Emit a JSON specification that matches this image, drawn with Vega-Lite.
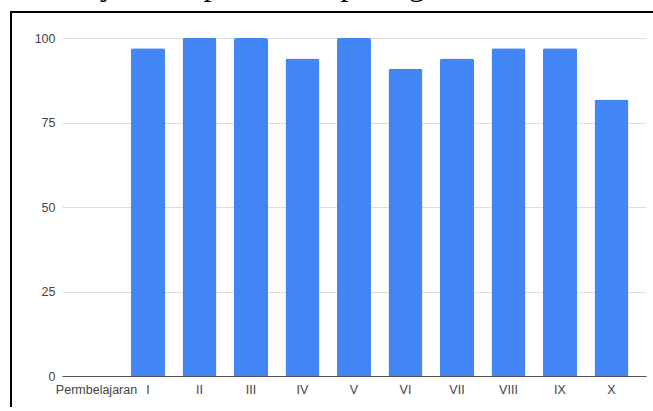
{
  "$schema": "https://vega.github.io/schema/vega-lite/v6.json",
  "width": 645,
  "height": 402,
  "autosize": {"type": "none"},
  "padding": {"left": 11, "top": 12, "right": -3, "bottom": -7},
  "background": "white",
  "title": {
    "text": "embelajaran dapat dilihat pada grafik berikut ini",
    "anchor": "start",
    "frame": "group",
    "font": "Liberation Serif",
    "fontSize": 32,
    "fontWeight": "normal",
    "color": "#000000",
    "baseline": "alphabetic",
    "offset": 0,
    "dx": -2,
    "dy": 15
  },
  "data": {
    "values": [
      {"pertemuan": "I", "nilai": 97},
      {"pertemuan": "II", "nilai": 100},
      {"pertemuan": "III", "nilai": 100},
      {"pertemuan": "IV", "nilai": 93.9},
      {"pertemuan": "V", "nilai": 100},
      {"pertemuan": "VI", "nilai": 90.9},
      {"pertemuan": "VII", "nilai": 93.9},
      {"pertemuan": "VIII", "nilai": 97},
      {"pertemuan": "IX", "nilai": 97},
      {"pertemuan": "X", "nilai": 81.8}
    ]
  },
  "mark": {"type": "bar", "color": "#4285F4", "cornerRadiusTopLeft": 2, "cornerRadiusTopRight": 2},
  "encoding": {
    "x": {
      "field": "pertemuan",
      "type": "nominal",
      "sort": null,
      "scale": {
        "domain": ["Permbelajaran", "I", "II", "III", "IV", "V", "VI", "VII", "VIII", "IX", "X"],
        "range": [51, 635],
        "paddingInner": 0.34,
        "paddingOuter": 0.34
      },
      "axis": {
        "title": null,
        "orient": "bottom",
        "offset": -38,
        "labelAngle": 0,
        "ticks": false,
        "tickSize": 0,
        "labelPadding": 7,
        "domainColor": "#555555",
        "domainWidth": 1,
        "grid": false,
        "labelFont": "Liberation Sans",
        "labelFontSize": 12.5,
        "labelColor": "#444444"
      }
    },
    "y": {
      "field": "nilai",
      "type": "quantitative",
      "scale": {"domain": [0, 100], "range": [364, 26], "nice": false},
      "axis": {
        "title": null,
        "offset": -51,
        "values": [0, 25, 50, 75, 100],
        "ticks": false,
        "tickSize": 0,
        "labelPadding": 7,
        "domain": false,
        "grid": true,
        "gridColor": "#dedede",
        "gridWidth": 1,
        "labelFont": "Liberation Sans",
        "labelFontSize": 12.5,
        "labelColor": "#444444"
      }
    }
  },
  "config": {"view": {"stroke": "#000000", "strokeWidth": 2}}
}
